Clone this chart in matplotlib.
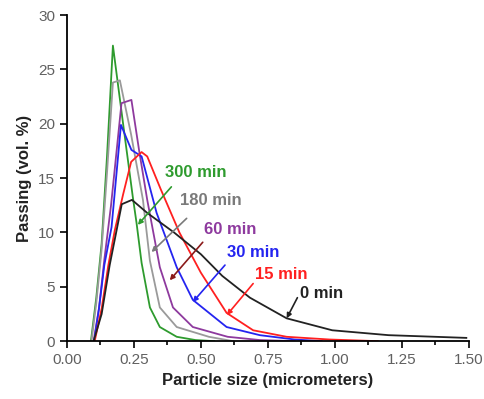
import matplotlib.pyplot as plt
from matplotlib.ticker import MultipleLocator

plt.rcParams['font.family'] = ['Liberation Sans', 'DejaVu Sans']

# particle size distributions
x_300 = [0.09, 0.11, 0.13, 0.15, 0.172, 0.21, 0.246, 0.26, 0.279, 0.31, 0.347, 0.41, 0.48, 0.55]
y_300 = [0.0, 4.0, 9.0, 17.0, 27.2, 20.0, 13.3, 10.9, 7.2, 3.1, 1.3, 0.4, 0.1, 0.0]

x_180 = [0.092, 0.11, 0.13, 0.15, 0.172, 0.198, 0.24, 0.284, 0.31, 0.347, 0.41, 0.53, 0.62]
y_180 = [0.0, 3.5, 8.5, 15.5, 23.8, 24.0, 19.0, 13.0, 7.4, 3.1, 1.3, 0.4, 0.0]

x_60 = [0.1, 0.12, 0.14, 0.165, 0.204, 0.241, 0.27, 0.30, 0.347, 0.396, 0.47, 0.6, 0.72, 0.85]
y_60 = [0.0, 3.0, 7.5, 12.5, 21.9, 22.2, 17.5, 13.0, 6.8, 3.1, 1.3, 0.4, 0.1, 0.0]

x_30 = [0.102, 0.12, 0.14, 0.167, 0.202, 0.241, 0.279, 0.335, 0.41, 0.47, 0.596, 0.72, 0.85, 0.95]
y_30 = [0.0, 3.0, 7.0, 10.5, 19.9, 17.6, 17.0, 11.8, 6.8, 3.8, 1.3, 0.55, 0.15, 0.0]

x_15 = [0.104, 0.13, 0.155, 0.179, 0.21, 0.24, 0.279, 0.30, 0.35, 0.42, 0.5, 0.596, 0.695, 0.82, 0.98, 1.16]
y_15 = [0.0, 3.0, 7.0, 10.2, 13.5, 16.5, 17.4, 17.0, 14.0, 10.0, 6.3, 2.6, 1.0, 0.4, 0.15, 0.0]

x_0 = [0.1, 0.13, 0.16, 0.205, 0.243, 0.30, 0.40, 0.50, 0.58, 0.683, 0.82, 0.99, 1.2, 1.49]
y_0 = [0.0, 2.5, 7.0, 12.6, 13.0, 11.8, 10.0, 8.0, 6.0, 4.0, 2.1, 1.0, 0.55, 0.3]

labels = ["300 min", "180 min", "60 min", "30 min", "15 min", "0 min"]
colors = ["#2e9b2e", "#9a9a9a", "#8e3a9e", "#2424f0", "#ff2020", "#222222"]
text_colors = ["#2e9b2e", "#7a7a7a", "#8e3a9e", "#2424f0", "#ff2020", "#222222"]
arrow_colors = ["#2e9b2e", "#7a7a7a", "#8b1a1a", "#2424f0", "#ff2020", "#222222"]

# label text (left x, centre y), arrow tail and head
text_pos = [(0.366, 15.5), (0.422, 12.9), (0.511, 10.3), (0.597, 8.2), (0.701, 6.1), (0.87, 4.4)]
arrow_tail = [(0.39, 14.2), (0.447, 11.3), (0.507, 9.1), (0.59, 7.0), (0.695, 5.3), (0.86, 4.0)]
arrow_head = [(0.265, 10.7), (0.316, 8.2), (0.384, 5.6), (0.47, 3.6), (0.597, 2.4), (0.82, 2.1)]

fig = plt.figure(figsize=(4.84, 3.99), dpi=100)
ax = fig.add_axes([0.138, 0.145, 0.831, 0.817])

xs = [x_300, x_180, x_60, x_30, x_15, x_0]
ys = [y_300, y_180, y_60, y_30, y_15, y_0]
for i in range(len(xs)):
    ax.plot(xs[i], ys[i], color=colors[i], lw=1.3)

for i in range(len(labels)):
    ax.text(text_pos[i][0], text_pos[i][1], labels[i], color=text_colors[i],
            fontsize=12, fontweight='bold', ha='left', va='center')
    ax.annotate("", xy=arrow_head[i], xytext=arrow_tail[i],
                arrowprops=dict(arrowstyle="-|>", color=arrow_colors[i], lw=1.2,
                                mutation_scale=7, shrinkA=0, shrinkB=0))

ax.set_xlim(0, 1.5)
ax.set_ylim(0, 30)
ax.xaxis.set_major_locator(MultipleLocator(0.25))
ax.xaxis.set_minor_locator(MultipleLocator(0.125))
ax.yaxis.set_major_locator(MultipleLocator(5))
ax.set_xticklabels([f"{v:.2f}" for v in ax.get_xticks()])

ax.spines['top'].set_visible(False)
ax.spines['right'].set_visible(False)
ax.spines['left'].set_linewidth(1.3)
ax.spines['bottom'].set_linewidth(1.3)
ax.tick_params(axis='both', which='major', direction='out', length=5, width=1.2,
               labelsize=11, labelcolor='#606060')
ax.tick_params(axis='x', which='minor', direction='out', length=3, width=1.2)

ax.set_xlabel("Particle size (micrometers)", fontsize=12, fontweight='bold', color='#222222')
ax.set_ylabel("Passing (vol. %)", fontsize=12, fontweight='bold', color='#222222')

fig.savefig("out.png", dpi=100)
